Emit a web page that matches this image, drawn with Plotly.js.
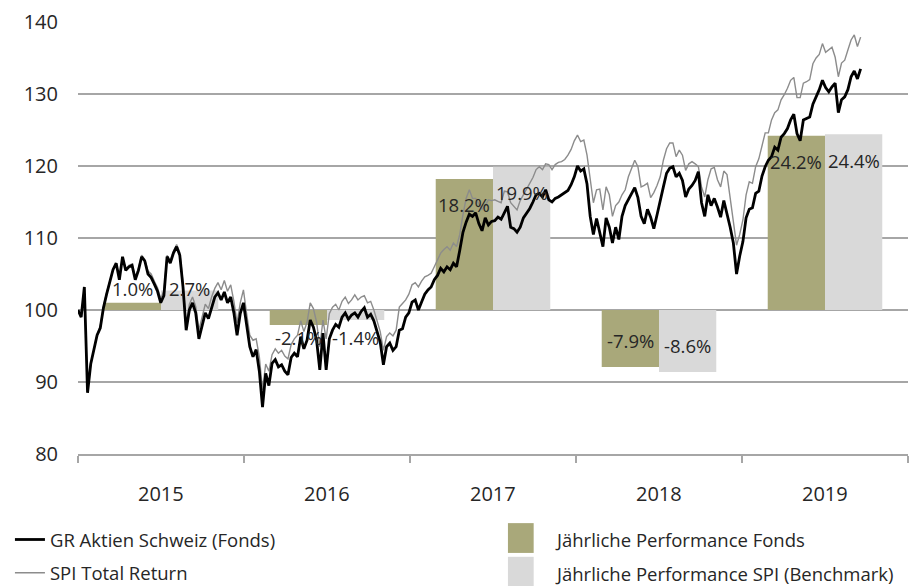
<!DOCTYPE html>
<html>
<head>
<meta charset="utf-8">
<script src="https://cdn.plot.ly/plotly-3.0.1.min.js"></script>
<style>html,body{margin:0;padding:0;background:#fff;}#chart{width:915px;height:586px;}</style>
</head>
<body>
<div id="chart"></div>
<script>
// ---- data ----
const years = [2015, 2016, 2017, 2018, 2019];
const perfFund = [1.0, -2.1, 18.2, -7.9, 24.2];
const perfSPI = [2.7, -1.4, 19.9, -8.6, 24.4];
const perfLabelsFund = ["1.0%", "-2.1%", "18.2%", "-7.9%", "24.2%"];
const perfLabelsSPI = ["2.7%", "-1.4%", "19.9%", "-8.6%", "24.4%"];

// weekly index values (start of 2015 = 100)
const fund2015 = [100,99,103.2,88.5,92.5,94.5,96.5,97.5,100.3,102.2,104,105.6,106.5,104.2,107.4,105.5,106,106.2,104.2,105.5,107.4,106.8,105,104.5,103.6,102.6,101,102,107.4,106.5,107.9,108.8,107.6,103.2,97.2,100,101,99.6,96,98,99.6,98.8,100.5,101.8,102.4,101.4,102.5,101,101.8,99.6,96.5,99.5];
const fund2016 = [101,98.2,94.9,93.5,94.5,91.5,86.5,91.2,89.5,92.6,93.1,92.1,92.4,91.5,91,93.4,94,93.5,96.3,94.6,95.8,98.6,97.6,95.8,91.7,96.8,91.7,96,97.2,98,97.6,99,99.6,98.7,99.3,99.6,99,99.8,100.3,99,99.4,98.5,96.8,95.5,92.4,94.9,95.4,94.4,94.9,97.2,97.4,99];
const fund2017 = [99.6,101.1,101.4,100,101.1,102.2,102.8,103.2,104.2,104.8,105.8,105.3,106,105.6,106.5,106,108.3,110.8,112.2,113.3,113,113.5,112,111,112.8,111.8,112.3,112.4,112.9,112.6,113.5,114.4,111.5,111.3,110.8,111.5,112.8,113.5,114.1,115,116,116.2,115.7,116.7,115.3,115,115.5,115.7,116,116.3,116.6,117.4];
const fund2018 = [118.5,120,119.3,119.6,117.5,113,110.5,112.7,110.5,108.8,112.8,111.5,109.3,111.5,109.8,113,114.5,115.3,116.2,117,115.6,113,112,114,112.9,111.3,113.2,115.3,117.1,119,119.7,119.9,118.5,119,118,115.7,116.8,117.3,118,119.2,114.9,113,116,114.5,115.5,114.3,112.9,115.2,113.5,111.5,109.3,105];
const fund2019 = [107.5,109.5,112.8,114,114.2,116.2,116.5,118.6,119.9,120.8,121.3,122.6,122.2,124,124.5,125.2,126.4,127.2,124.5,123.5,126.4,126.6,126.8,128.6,129.6,130.6,131.9,130.9,130.3,131,131.5,127.4,129.2,129.6,130.6,132.4,133.2,132.1,133.5];

const spi2015 = [100,99.2,103,88.8,92.4,94.6,96.6,97.8,100.5,102.4,104.1,105.6,106.5,104.5,107.3,105.7,106.2,106.4,104.6,105.8,107.6,107,105.4,105,104,103.1,101.6,102.6,107.6,106.9,108.2,109.1,108,103.8,98,100.8,101.8,100.5,97.2,99.2,100.8,100.2,101.8,103,103.8,102.8,104.1,102.6,103.5,101.2,98.2,101];
const spi2016 = [102.8,99.5,96.5,95.8,96,93.5,88.9,92.5,91.5,93.8,94.6,94,94.4,93.6,93.2,95.2,96,96.5,98.5,97,98.3,101,100.2,98.3,94.9,98.6,96,99.5,100.4,100.8,100,101.2,101.8,100.9,101.4,102.1,101.4,101.8,102,101,101.2,100,98.5,97,94.4,96.3,96.8,96.4,97.2,100.4,100.9,101.4];
const spi2017 = [102.2,103.5,103.8,103.2,104,104.6,104.8,105.1,106,107,107.9,108.4,108.8,108.3,109.3,108.8,110.5,113.2,115.5,116.7,115.5,115.5,114.8,114,114.5,115.3,115.2,115.3,115.1,114.9,116.5,116.4,114.9,114.4,113.9,115.2,116,116.7,117.6,118.4,119.5,119.9,119.5,120.3,120.2,119.5,120.2,120.5,120.6,120.9,121.5,122.3];
const spi2018 = [123.5,124.3,123.4,123.6,121.5,118,114.9,116.7,116.8,113.9,117.1,116,113,114.5,115,116,116.7,118.5,119.8,120.8,119.9,117.1,117.3,117.6,115.6,116.3,117.3,118.5,120.8,122.4,123.2,123.2,121.3,122.2,121.5,119.4,120.3,120.6,120.3,119.9,117.1,115.7,118.1,119.6,119.8,118.1,117.1,119.3,118.8,115.7,112.5,109];
const spi2019 = [110.5,112.5,116,117.8,117.6,119.9,121,122.8,124.6,124.6,126.4,127.4,127.8,129.2,129.9,130.8,131.9,132.3,129.5,129.5,131.5,131.7,132,134.2,135,135.5,137,135.8,136.2,136.5,135.1,132.4,134.3,134.7,136.1,137.5,138.2,136.6,137.9];

const fundName = "GR Aktien Schweiz (Fonds)";
const spiName = "SPI Total Return";
const barFundName = "Jährliche Performance Fonds";
const barSPIName = "Jährliche Performance SPI (Benchmark)";

// ---- build ----
const fundSeries = [].concat(fund2015, fund2016, fund2017, fund2018, fund2019);
const spiSeries = [].concat(spi2015, spi2016, spi2017, spi2018, spi2019);
const weekX = fundSeries.map((_, i) => years[0] + i * 7 / 365.25);

const FONT = "Open Sans, Segoe UI, sans-serif";
const TXT = "#262626";
const OLIVE = "#a9a87a";
const LGRAY = "#d9d9d9";
const GRID = "#a6a6a6";
const bargap = 0.31;
const barW = (1 - bargap) / 2;
const catX = years.map(y => y + 0.5);

const traces = [
  {type: "bar", x: catX, y: perfFund, base: 100, name: barFundName,
   marker: {color: OLIVE}, showlegend: false, hoverinfo: "skip"},
  {type: "bar", x: catX, y: perfSPI, base: 100, name: barSPIName,
   marker: {color: LGRAY}, showlegend: false, hoverinfo: "skip"},
  {type: "scatter", mode: "lines", x: weekX, y: spiSeries, name: spiName,
   line: {color: "#8c8c8c", width: 1.4}, legend: "legend2"},
  {type: "scatter", mode: "lines", x: weekX, y: fundSeries, name: fundName,
   line: {color: "#000000", width: 2.8}, legend: "legend"}
];

const annotations = [];
function addLabels(vals, labels, dx) {
  vals.forEach((v, i) => {
    const s = v >= 0 ? 1 : -1;
    const small = Math.abs(v) < 5;
    annotations.push({
      x: catX[i] + dx, y: small ? 100 : 100 + v, xref: "x", yref: "y",
      text: labels[i], showarrow: false, xanchor: "center", yanchor: "middle",
      yshift: small ? (s > 0 ? 22 : -27) : -s * 26,
      font: {family: FONT, size: 18.5, color: TXT}
    });
  });
}
addLabels(perfFund, perfLabelsFund, -barW / 2);
addLabels(perfSPI, perfLabelsSPI, barW / 2);

years.forEach(y => {
  annotations.push({x: y + 0.5, y: 0, xref: "x", yref: "paper", yshift: -39,
    text: String(y), showarrow: false, yanchor: "middle",
    font: {family: FONT, size: 20, color: TXT}});
});

// legend texts for the bar series
annotations.push({x: 0.572, y: -0.199, xref: "paper", yref: "paper", text: barFundName,
  showarrow: false, xanchor: "left", yanchor: "middle", font: {family: FONT, size: 18.5, color: TXT}});
annotations.push({x: 0.572, y: -0.276, xref: "paper", yref: "paper", text: barSPIName,
  showarrow: false, xanchor: "left", yanchor: "middle", font: {family: FONT, size: 18.5, color: TXT}});

const shapes = [
  {type: "rect", xref: "paper", yref: "paper", x0: 0.518, x1: 0.549, y0: -0.160, y1: -0.229,
   fillcolor: OLIVE, line: {width: 0}},
  {type: "rect", xref: "paper", yref: "paper", x0: 0.518, x1: 0.549, y0: -0.238, y1: -0.31,
   fillcolor: LGRAY, line: {width: 0}}
];

const legendCommon = {font: {family: FONT, size: 18.5, color: TXT}, bgcolor: "rgba(0,0,0,0)",
  xanchor: "left", yanchor: "middle", orientation: "v", borderwidth: 0};

const layout = {
  width: 915, height: 586,
  margin: {l: 78, r: 7, t: 22, b: 132, autoexpand: false},
  paper_bgcolor: "#ffffff", plot_bgcolor: "#ffffff",
  barmode: "group", bargap: bargap, bargroupgap: 0,
  font: {family: FONT, color: TXT},
  xaxis: {type: "linear", range: [2015, 2020],
    tickvals: years.concat([years[years.length - 1] + 1]),
    ticktext: ["", "", "", "", "", ""],
    ticks: "outside", ticklen: 7, tickcolor: GRID, tickwidth: 1.5,
    showline: true, linecolor: GRID, linewidth: 1.5,
    showgrid: false, zeroline: false, fixedrange: true},
  yaxis: {range: [80, 140], dtick: 10, tick0: 80,
    showgrid: true, gridcolor: GRID, gridwidth: 1.5,
    showline: false, zeroline: false, ticks: "",
    tickfont: {family: FONT, size: 20, color: TXT},
    ticklabelstandoff: 19, fixedrange: true},
  legend: Object.assign({x: -0.082, y: -0.199}, legendCommon),
  legend2: Object.assign({x: -0.082, y: -0.276}, legendCommon),
  annotations: annotations,
  shapes: shapes
};

Plotly.newPlot("chart", traces, layout, {displayModeBar: false, staticPlot: true});
</script>
</body>
</html>
